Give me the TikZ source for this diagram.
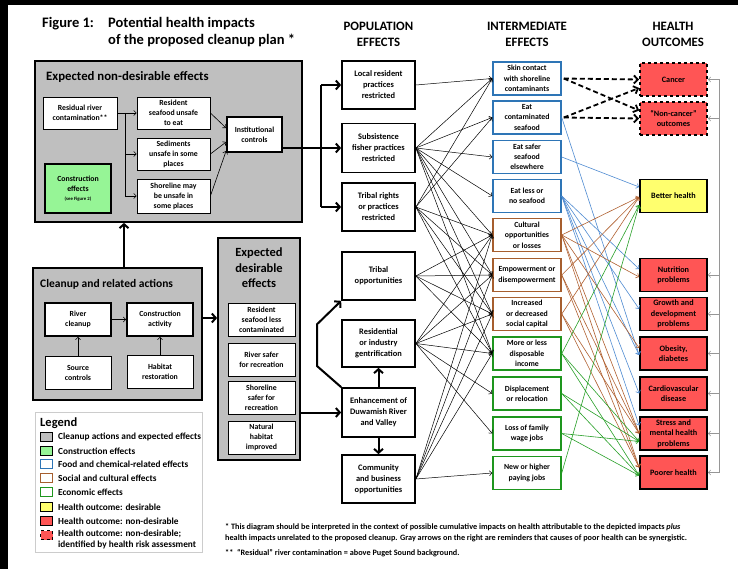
\documentclass[tikz,border=0pt]{standalone}
\usepackage{fontspec}
\setmainfont{Carlito}
\usetikzlibrary{arrows.meta,calc}
\definecolor{boxgray}{RGB}{191,191,191}
\definecolor{blueB}{RGB}{46,117,182}
\definecolor{brownB}{RGB}{166,94,46}
\definecolor{greenB}{RGB}{30,150,30}
\definecolor{blueL}{RGB}{80,140,210}
\definecolor{brownL}{RGB}{176,96,48}
\definecolor{greenL}{RGB}{40,160,40}
\definecolor{redF}{RGB}{255,85,85}
\definecolor{yelF}{RGB}{255,255,110}
\definecolor{lgreenF}{RGB}{150,245,150}
\definecolor{fbgray}{RGB}{150,150,150}
\begin{document}
\begin{tikzpicture}[x=1pt,y=-1pt,
  bx/.style={draw=black, fill=white, line width=0.8pt, inner sep=0pt, align=center,
    font=\bfseries\fontsize{7.8}{10}\selectfont},
  bxk/.style={bx, line width=1.7pt},
  grp/.style={draw=black, fill=boxgray, line width=1.7pt},
  pop/.style={bx, line width=1.7pt, minimum width=73pt, minimum height=48pt,
    font=\bfseries\fontsize{8.4}{11}\selectfont},
  inter/.style={bx, line width=1.5pt, minimum width=68pt, minimum height=33pt,
    font=\bfseries\fontsize{7.8}{10.3}\selectfont},
  food/.style={inter, draw=blueB},
  soc/.style={inter, draw=brownB},
  econ/.style={inter, draw=greenB},
  hl/.style={bx, line width=1.7pt, fill=redF, minimum width=67pt, minimum height=33pt,
    font=\bfseries\fontsize{8.2}{10.3}\selectfont},
  hld/.style={hl, dashed},
  thin/.style={line width=0.6pt, -{Straight Barb[length=2.5pt,width=5pt]}},
  conn/.style={line width=0.5pt, black, -{Straight Barb[length=2.5pt,width=5pt]}},
  thk/.style={line width=2pt, -{Straight Barb[length=4pt,width=9pt]}},
  dsh/.style={line width=1.8pt, dash pattern=on 5pt off 3pt, -{Straight Barb[length=4pt,width=8pt]}},
  cl/.style={line width=0.6pt, -{Straight Barb[length=2.5pt,width=5pt]}},
  fb/.style={line width=0.6pt, fbgray, -{Straight Barb[length=2.5pt,width=5pt]}},
  hdr/.style={font=\bfseries\fontsize{12.8}{14}\selectfont, anchor=base},
  lg/.style={minimum width=12pt, minimum height=9pt, inner sep=0pt, line width=1.3pt, draw=black},
  lgt/.style={anchor=west, inner sep=0pt, font=\bfseries\fontsize{9.3}{11}\selectfont, align=left},
  fn/.style={anchor=base west, inner sep=0pt, font=\bfseries\fontsize{8.2}{9}\selectfont}
]
\useasboundingbox (0,0) rectangle (738,569);
\fill[black] (0,0) rectangle (738,569);
\fill[white] (8,5) rectangle (738,569);

% title
\node[anchor=base west, inner sep=0pt, font=\bfseries\fontsize{14.5}{16}\selectfont] (tA) at (42,28) {Figure 1:};
\node[anchor=base west, inner sep=0pt, font=\bfseries\fontsize{14.5}{16}\selectfont] (tB) at (108,28) {Potential health impacts};
\node[anchor=base west, inner sep=0pt, font=\bfseries\fontsize{14.5}{16}\selectfont] (tC) at (108,45) {of the proposed cleanup plan *};

% headers
\node[hdr] (h1a) at (378.5,31) {POPULATION};
\node[hdr] (h1b) at (378.5,47) {EFFECTS};
\node[hdr] (h2a) at (527,31) {INTERMEDIATE};
\node[hdr] (h2b) at (527,47) {EFFECTS};
\node[hdr] (h3a) at (673,31) {HEALTH};
\node[hdr] (h3b) at (673,47) {OUTCOMES};

% non-desirable group
\node[grp, minimum width=267pt, minimum height=161pt, inner sep=0pt] (gnd) at (168.5,141.5) {};
\node[anchor=base west, inner sep=0pt, font=\bfseries\fontsize{12.8}{15}\selectfont] (gndt) at (46,81) {Expected non-desirable effects};
\node[bx, minimum width=74pt, minimum height=32pt] (resid) at (80,113) {Residual river\\contamination**};
\node[bx, minimum width=73pt, minimum height=32pt] (rsu) at (173.5,113) {Resident\\seafood unsafe\\to eat};
\node[bx, minimum width=73pt, minimum height=32pt] (sed) at (173.5,154) {Sediments\\unsafe in some\\places};
\node[bx, minimum width=73pt, minimum height=34pt] (shore) at (173.5,196) {Shoreline may\\be unsafe in\\some places};
\node[bxk, minimum width=55pt, minimum height=35pt] (inst) at (254.5,134.5) {Institutional\\controls};
\node[bxk, fill=lgreenF, minimum width=66pt, minimum height=49pt] (constr) at (78,188.5) {Construction\\effects\\[-1pt]{\fontsize{4.8}{5}\selectfont (see Figure 2)}};
\coordinate (k1) at (125,113);
\draw[thin] (resid.east) -- (rsu.west);
\draw[line width=0.6pt] (k1) -- (k1 |- shore.west);
\draw[thin] (k1 |- sed.west) -- (sed.west);
\draw[thin] (k1 |- shore.west) -- (shore.west);
\draw[thin] (rsu.east) -- ($(inst.west)+(0,-6.5)$);
\draw[thin] (sed.east) -- ($(inst.west)+(0,7.5)$);
\draw[thin] (shore.east) -- ($(inst.south west)+(0,-2)$);

% cleanup group
\node[grp, minimum width=169pt, minimum height=132pt, inner sep=0pt] (gcl) at (117.5,334) {};
\node[anchor=base west, inner sep=0pt, font=\bfseries\fontsize{11.5}{14}\selectfont] (gclt) at (40,287.5) {Cleanup and related actions};
\node[bxk, minimum width=66pt, minimum height=33pt] (river) at (78,319.5) {River\\cleanup};
\node[bxk, minimum width=66pt, minimum height=33pt] (cact) at (160,319.5) {Construction\\activity};
\node[bx, minimum width=66pt, minimum height=33pt] (source) at (78,372.5) {Source\\controls};
\node[bx, minimum width=66pt, minimum height=33pt] (habitat) at (160,371.5) {Habitat\\restoration};
\draw[thin] (river.east) -- (cact.west);
\draw[thin] (source.north) -- (river.south);
\draw[thin] (habitat.north) -- (cact.south);

% desirable group
\node[grp, minimum width=82pt, minimum height=222pt, inner sep=0pt] (gds) at (259,349) {};
\node[align=center, inner sep=0pt, font=\bfseries\fontsize{12.5}{15.5}\selectfont] (gdst) at (259,268) {Expected\\desirable\\effects};
\node[bx, minimum width=67pt, minimum height=33pt] (d1) at (261.5,319.5) {Resident\\seafood less\\contaminated};
\node[bx, minimum width=67pt, minimum height=33pt] (d2) at (261.5,359.5) {River safer\\for recreation};
\node[bx, minimum width=67pt, minimum height=33pt] (d3) at (261.5,397.5) {Shoreline\\safer for\\recreation};
\node[bx, minimum width=67pt, minimum height=33pt] (d4) at (261.5,437.5) {Natural\\habitat\\improved};

% group arrows
\draw[thk] (gcl.north -| 124,0) -- (gnd.south -| 124,0);
\draw[thk] (gcl.east |- 0,318) -- (gds.west |- 0,318);

% population effects
\node[pop] (p1) at (378.5,85) {Local resident\\practices\\restricted};
\node[pop, minimum height=49pt] (p2) at (378.5,148) {Subsistence\\fisher practices\\restricted};
\node[pop, minimum height=48pt] (p3) at (378.5,207) {Tribal rights\\or practices\\restricted};
\node[pop] (p4) at (378.5,276) {Tribal\\opportunities};
\node[pop, minimum height=47pt] (p5) at (378.5,343.5) {Residential\\or industry\\gentrification};
\node[pop, minimum height=49pt] (p6) at (378.5,412.5) {Enhancement of\\Duwamish River\\and Valley};
\node[pop] (p7) at (378.5,479) {Community\\and business\\opportunities};

\coordinate (j) at (321,148);
\draw[line width=2pt] (inst.east |- j) -- (j);
\draw[line width=2pt] (j |- p1.west) -- (j |- p3.west);
\draw[thk] (j) -- (p2.west);
\draw[thk] (j |- p1.west) -- (p1.west);
\draw[thk] (j |- p3.west) -- (p3.west);
\draw[thk] (gds.east |- p6.west) -- (p6.west);
\draw[thk] (p6.north) -- (p5.south);
\draw[thk] (p6.south) -- (p7.north);
\draw[thk] (p6.north west) -- ++(-24,-21) -- ++(0,-42) -- (p4.south west);

% intermediate effects
\node[food] (I1) at (527,78.5) {Skin contact\\with shoreline\\contaminants};
\node[food] (I2) at (527,117.5) {Eat\\contaminated\\seafood};
\node[food] (I3) at (527,157) {Eat safer\\seafood\\elsewhere};
\node[food] (I4) at (527,196) {Eat less or\\no seafood};
\node[soc] (I5) at (527,235) {Cultural\\opportunities\\or losses};
\node[soc] (I6) at (527,275) {Empowerment or\\disempowerment};
\node[soc] (I7) at (527,314) {Increased\\or decreased\\social capital};
\node[econ] (I8) at (527,353.5) {More or less\\disposable\\income};
\node[econ] (I9) at (527,393.5) {Displacement\\or relocation};
\node[econ] (I10) at (527,433.5) {Loss of family\\wage jobs};
\node[econ] (I11) at (527,473) {New or higher\\paying jobs};

% health outcomes
\node[hld] (H1) at (673.5,79.5) {Cancer};
\node[hld] (H2) at (673.5,118.5) {“Non-cancer”\\outcomes};
\node[hl, fill=yelF] (H3) at (673.5,196) {Better health};
\node[hl] (H4) at (673.5,275) {Nutrition\\problems};
\node[hl] (H5) at (673.5,314) {Growth and\\development\\problems};
\node[hl] (H6) at (673.5,353.5) {Obesity,\\diabetes};
\node[hl] (H7) at (673.5,393.5) {Cardiovascular\\disease};
\node[hl] (H8) at (673.5,433.5) {Stress and\\mental health\\problems};
\node[hl] (H9) at (673.5,472.5) {Poorer health};

% population -> intermediate
\foreach \s/\t in {p1/I1, p2/I1, p2/I2, p2/I3, p2/I4, p2/I5, p2/I6, p2/I7, p2/I8,
  p3/I1, p3/I2, p3/I5, p3/I6, p3/I7, p3/I8,
  p4/I5, p4/I6, p4/I7, p4/I8,
  p5/I5, p5/I6, p5/I7, p5/I8, p5/I9, p5/I10,
  p7/I5, p7/I6, p7/I7, p7/I8, p7/I11}
  \draw[conn] (\s.east) -- (\t.west);

% dashed to cancer
\draw[dsh] ($(I1.east)+(2,0)$) -- (H1.west);
\draw[dsh] ($(I1.east)+(2,0)$) -- ($(H2.west)+(0,-8)$);
\draw[dsh] ($(I2.east)+(2,0)$) -- ($(H1.west)+(0,8.5)$);
\draw[dsh] ($(I2.east)+(2,0)$) -- (H2.west);

% colored connectors
\foreach \s/\t/\dy in {I3/H3/-9, I2/H6/1.5, I4/H4/-6, I4/H5/-5, I4/H6/1.5, I4/H7/0, I4/H8/-8}
  \draw[cl, blueL] (\s.east) -- ($(\t.west)+(0,\dy)$);
\foreach \s/\t/\dy in {I5/H3/1, I6/H3/1, I7/H3/1, I5/H4/2, I5/H6/-5.5, I5/H8/0, I6/H8/0, I7/H8/0,
  I5/H9/-5, I6/H9/-5, I7/H9/-5}
  \draw[cl, brownL] (\s.east) -- ($(\t.west)+(0,\dy)$);
\foreach \s/\t/\dy in {I8/H3/9, I11/H3/9, I8/H8/8, I9/H8/8, I10/H8/8, I8/H9/3, I9/H9/3, I10/H9/3}
  \draw[cl, greenL] (\s.east) -- ($(\t.west)+(0,\dy)$);

% feedback gray arrows
\coordinate (fbt) at (719,79.5);
\coordinate (fbb) at (719,472.5);
\draw[line width=0.6pt, fbgray] (fbt) -- (fbb);
\foreach \h in {H1,H2,H4,H5,H6,H7,H8,H9}
  \draw[fb] (\h.east -| fbt) -- (\h.east);

% legend
\node[draw=black!20, line width=0.8pt, fill=white, minimum width=167pt, minimum height=140pt, inner sep=0pt] (leg) at (118.5,482) {};
\node[anchor=base west, inner sep=0pt, font=\bfseries\fontsize{12.5}{13}\selectfont] (legt) at (40,426) {Legend};
\node[lg, fill=boxgray] (l1) at (46.5,437) {};
\node[lgt] (lt1) at (58,437) {Cleanup actions and expected effects};
\node[lg, fill=lgreenF] (l2) at (46.5,451) {};
\node[lgt] (lt2) at (58,451) {Construction effects};
\node[lg, fill=white, draw=blueB] (l3) at (46.5,464) {};
\node[lgt] (lt3) at (58,464) {Food and chemical-related effects};
\node[lg, fill=white, draw=brownB] (l4) at (46.5,478) {};
\node[lgt] (lt4) at (58,478) {Social and cultural effects};
\node[lg, fill=white, draw=greenB] (l5) at (46.5,492) {};
\node[lgt] (lt5) at (58,492) {Economic effects};
\node[lg, fill=yelF] (l6) at (46.5,507) {};
\node[lgt] (lt6) at (58,507) {Health outcome: desirable};
\node[lg, fill=redF] (l7) at (46.5,521) {};
\node[lgt] (lt7) at (58,521) {Health outcome: non-desirable};
\node[lg, fill=redF, dashed] (l8) at (46.5,535) {};
\node[lgt, anchor=north west] (lt8) at (58,530) {Health outcome: non-desirable;\\identified by health risk assessment};

% footnotes
\node[fn] (fn1) at (225,529) {* This diagram should be interpreted in the context of possible cumulative impacts on health attributable to the depicted impacts \textit{plus}};
\node[fn] (fn2) at (225,540) {health impacts unrelated to the proposed cleanup. Gray arrows on the right are reminders that causes of poor health can be synergistic.};
\node[fn] (fn3) at (225,555) {**\ \ “Residual” river contamination = above Puget Sound background.};
\end{tikzpicture}
\end{document}
